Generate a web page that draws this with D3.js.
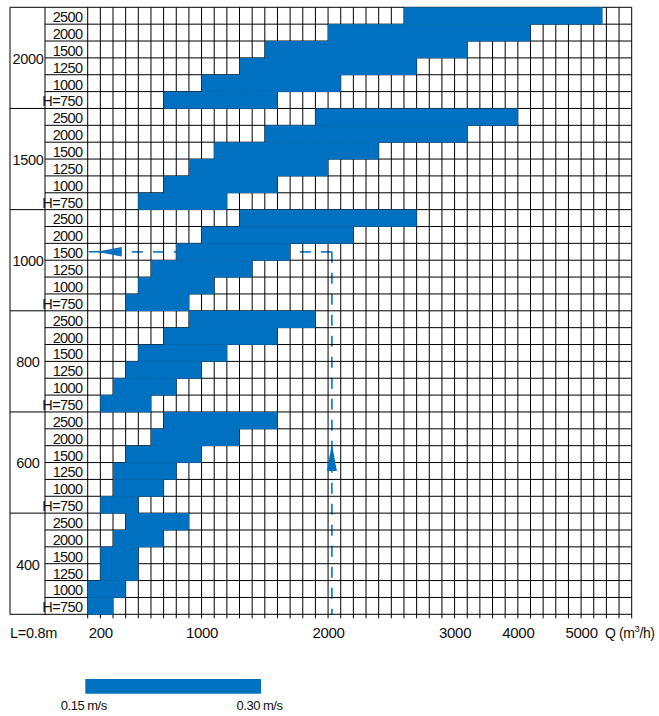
<!DOCTYPE html>
<html>
<head>
<meta charset="utf-8">
<script src="https://cdn.jsdelivr.net/npm/d3@7"></script>
<style>
body { margin: 0; background: #fff; }
text { font-family: "Liberation Sans", Arial, sans-serif; fill: #111; }
</style>
</head>
<body>
<script>
//Data
var diameters = ["2000", "1500", "1000", "800", "600", "400"];
var heads = ["2500", "2000", "1500", "1250", "1000", "H=750"];

//Q range in m3/h, one row per diameter, columns in heads order
var qLow = [
    [2600, 2000, 1500, 1300, 1000, 700],
    [1900, 1500, 1100, 900, 700, 500],
    [1300, 1000, 800, 600, 500, 400],
    [900, 700, 500, 400, 300, 200],
    [700, 600, 400, 300, 300, 200],
    [400, 300, 200, 200, 100, 100]
];
var qHigh = [
    [5340, 4200, 3200, 2700, 2100, 1600],
    [4000, 3200, 2400, 2000, 1600, 1200],
    [2700, 2200, 1700, 1400, 1100, 900],
    [1900, 1600, 1200, 1000, 800, 600],
    [1600, 1300, 1000, 800, 700, 500],
    [900, 700, 500, 500, 400, 300]
];

var xTicks = [200, 1000, 2000, 3000, 4000, 5000];
var velocities = [0.15, 0.30];
var velocityLabels = ["0.15 m/s", "0.30 m/s"];

//reading example: Q = 2030 for D=1000, H=1500
var exampleQ = 2030;
var exampleRow = "1000|1500";

//Chart set up
var svgWidth = 659;
var svgHeight = 716;
var boxLeft = 10, dLineX = 45;
var gridLeft = 87.7, colW = 12.651;
var gridTop = 7.3, gridBottom = 614.3;
var blue = "#0070c0";
var dashBlue = "#1a82d2";

var svg = d3.select("body")
    .append("svg")
    .attr("width", svgWidth)
    .attr("height", svgHeight);

//x scale: 100 per column up to 3000, 200 per column after
var xScale = d3.scaleLinear()
    .domain([100, 3000, 5800])
    .range([gridLeft, gridLeft + 29 * colW, gridLeft + 43 * colW]);

var rowKeys = [];
diameters.forEach(function (d) {
    heads.forEach(function (h) { rowKeys.push(d + "|" + h); });
});

var yScale = d3.scaleBand()
    .domain(rowKeys)
    .range([gridTop, gridBottom]);

var rows = [];
diameters.forEach(function (d, i) {
    heads.forEach(function (h, j) {
        rows.push({ key: d + "|" + h, head: h, lo: qLow[i][j], hi: qHigh[i][j] });
    });
});

var gridRight = xScale(5800);

//dashed reading lines (drawn under the grid)
var ex = xScale(exampleQ);
var ey = yScale(exampleRow) + yScale.bandwidth() / 2;
var arrowBase = gridLeft + 34;

svg.append("path")
    .attr("d", `M${ex},${ey}H${arrowBase}`)
    .attr("fill", "none")
    .attr("stroke", dashBlue)
    .attr("stroke-width", 1.8)
    .attr("stroke-dasharray", "11,10");

svg.append("path")
    .attr("d", `M${ex},${ey}V${gridBottom}`)
    .attr("fill", "none")
    .attr("stroke", dashBlue)
    .attr("stroke-width", 1.8)
    .attr("stroke-dasharray", "11,10");

svg.append("line")
    .attr("x1", gridLeft + 1).attr("x2", arrowBase)
    .attr("y1", ey).attr("y2", ey)
    .attr("stroke", blue)
    .attr("stroke-width", 1.6);

//grid
var vValues = d3.range(100, 3001, 100).concat(d3.range(3200, 5801, 200));
var grid = svg.append("g").attr("stroke", "#000").attr("stroke-width", 1);

grid.selectAll(".v")
    .data(vValues)
    .enter()
    .append("line")
    .attr("x1", d => xScale(d)).attr("x2", d => xScale(d))
    .attr("y1", gridTop).attr("y2", gridBottom + 4);

grid.selectAll(".h")
    .data(rowKeys.concat(["end"]))
    .enter()
    .append("line")
    .attr("x1", (d, i) => i % 6 == 0 ? boxLeft : dLineX)
    .attr("x2", gridRight)
    .attr("y1", d => d == "end" ? gridBottom : yScale(d))
    .attr("y2", d => d == "end" ? gridBottom : yScale(d));

[boxLeft, dLineX].forEach(function (x) {
    grid.append("line")
        .attr("x1", x).attr("x2", x)
        .attr("y1", gridTop).attr("y2", gridBottom);
});

//bars
svg.selectAll(".bar")
    .data(rows)
    .enter()
    .append("rect")
    .attr("x", d => xScale(d.lo))
    .attr("y", d => yScale(d.key))
    .attr("width", d => xScale(d.hi) - xScale(d.lo))
    .attr("height", yScale.bandwidth() + 0.3)
    .attr("fill", blue);

//arrow heads
svg.append("path")
    .attr("d", `M${gridLeft + 9},${ey}L${arrowBase},${ey - 4.7}L${arrowBase},${ey + 4.7}Z`)
    .attr("fill", blue);

var upTip = yScale("600|1500") - 2;
var upBase = yScale("600|1250") + yScale.bandwidth() / 2;
svg.append("path")
    .attr("d", `M${ex},${upTip}L${ex + 5},${upBase}L${ex - 5},${upBase}Z`)
    .attr("fill", blue);

//row labels
svg.selectAll(".rowLabel")
    .data(rows)
    .enter()
    .append("text")
    .attr("x", 82.5)
    .attr("y", d => yScale(d.key) + yScale.bandwidth() - 2)
    .attr("text-anchor", "end")
    .attr("font-size", 14.5)
    .attr("letter-spacing", -0.6)
    .text(d => d.head);

//diameter labels
svg.selectAll(".dLabel")
    .data(diameters)
    .enter()
    .append("text")
    .attr("x", 28)
    .attr("y", d => yScale(d + "|" + heads[3]))
    .attr("dy", "0.4em")
    .attr("text-anchor", "middle")
    .attr("font-size", 14.5)
    .attr("letter-spacing", -0.3)
    .text(d => d);

//x axis labels
var bottomAxis = d3.axisBottom(xScale)
    .tickValues(xTicks)
    .tickSize(0)
    .tickPadding(13)
    .tickFormat(d3.format("d"));

var axisG = svg.append("g")
    .attr("transform", `translate(0, ${gridBottom})`)
    .call(bottomAxis);
axisG.select(".domain").remove();
axisG.selectAll("text")
    .attr("font-size", 15)
    .attr("letter-spacing", -0.3)
    .attr("font-family", "Liberation Sans, Arial, sans-serif")
    .attr("fill", "#111");

svg.append("text")
    .attr("x", boxLeft)
    .attr("y", 638)
    .attr("font-size", 14.5)
    .attr("letter-spacing", -0.3)
    .text("L=0.8m");

var qLabel = svg.append("text")
    .attr("x", 605)
    .attr("y", 638)
    .attr("font-size", 14)
    .attr("letter-spacing", -0.4);
qLabel.append("tspan").text("Q (m");
qLabel.append("tspan").attr("font-size", 9.5).attr("dy", -6).text("3");
qLabel.append("tspan").attr("dy", 6).text("/h)");

//velocity legend
var legendScale = d3.scaleLinear()
    .domain(velocities)
    .range([85.3, 261]);

svg.append("rect")
    .attr("x", legendScale(0.15))
    .attr("y", 679)
    .attr("width", legendScale(0.30) - legendScale(0.15))
    .attr("height", 14.7)
    .attr("fill", blue);

svg.selectAll(".vLabel")
    .data(velocities)
    .enter()
    .append("text")
    .attr("x", d => legendScale(d) - 1.5)
    .attr("y", 710)
    .attr("text-anchor", "middle")
    .attr("font-size", 13)
    .attr("letter-spacing", -0.5)
    .text((d, i) => velocityLabels[i]);
</script>
</body>
</html>
